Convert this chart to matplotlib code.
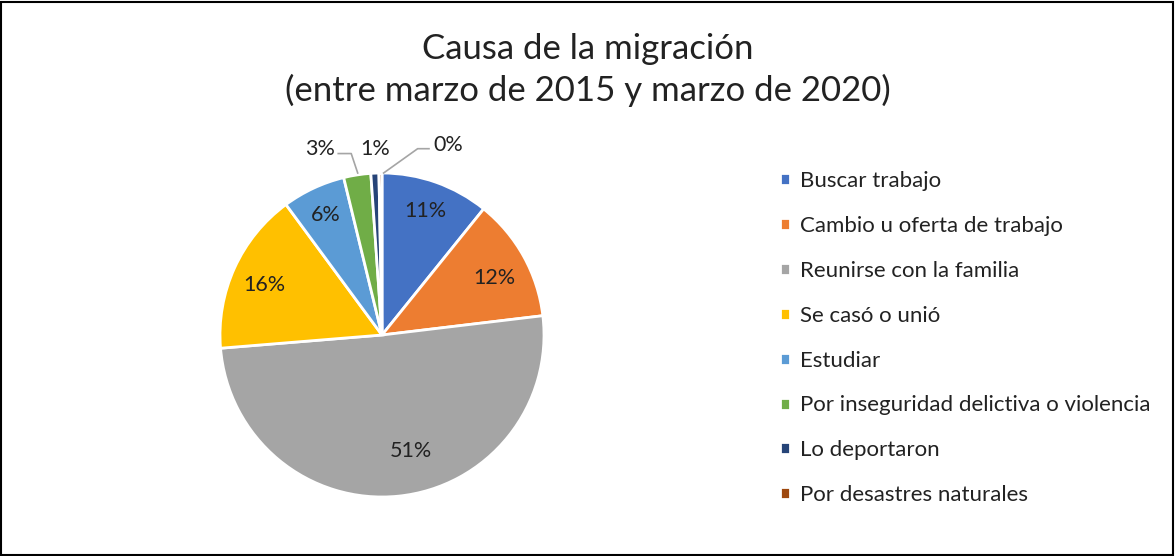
import numpy as np
import matplotlib.pyplot as plt
from matplotlib.patches import Rectangle

plt.rcParams['font.family'] = ['Lato', 'DejaVu Sans']

causas = ['Buscar trabajo', 'Cambio u oferta de trabajo', 'Reunirse con la familia',
          'Se casó o unió', 'Estudiar', 'Por inseguridad delictiva o violencia',
          'Lo deportaron', 'Por desastres naturales']
valores = [10.8, 12.3, 50.6, 16.2, 6.3, 2.7, 0.8, 0.3]
etiquetas = ['11%', '12%', '51%', '16%', '6%', '3%', '1%', '0%']
colores = ['#4472C4', '#ED7D31', '#A5A5A5', '#FFC000', '#5B9BD5', '#70AD47', '#264478', '#9E480E']

W, H = 1175, 556
fig = plt.figure(figsize=(W / 100, H / 100), dpi=100)

# pie axes placed in pixels: center (382, 335), radius 162
cx, cy, r = 382, 335, 162
ax = fig.add_axes([(cx - r) / W, (H - cy - r) / H, 2 * r / W, 2 * r / H])
wedges, _ = ax.pie(valores, colors=colores, startangle=90, counterclock=False,
                   wedgeprops=dict(edgecolor='white', linewidth=2))
ax.set_xlim(-1, 1)
ax.set_ylim(-1, 1)
ax.set_aspect('equal')
ax.axis('off')

# inside labels (radius factor, angle shift in degrees)
dist = [0.81, 0.78, 0.74, 0.79, 0.82]
shift = [0, -2, 8, 1.5, 0]
for w, lab, d, s in zip(wedges[:5], etiquetas[:5], dist, shift):
    ang = np.deg2rad((w.theta1 + w.theta2) / 2 + s)
    ax.text(d * np.cos(ang), d * np.sin(ang), lab, ha='center', va='center',
            fontsize=15.5, color='#222222')

# outside labels for the small slices
ax.text(-0.38, 1.15, etiquetas[5], ha='center', va='center', fontsize=15.5, color='#222222')
ax.text(-0.04, 1.15, etiquetas[6], ha='center', va='center', fontsize=15.5, color='#222222')
ax.text(0.41, 1.17, etiquetas[7], ha='center', va='center', fontsize=15.5, color='#222222')
ax.plot([-0.27, -0.19, -0.15], [1.12, 1.12, 1.0], color='#A5A5A5', lw=1.2, clip_on=False)
ax.plot([0.01, 0.22, 0.29], [1.0, 1.15, 1.15], color='#A5A5A5', lw=1.2, clip_on=False)

fig.text(588 / W, 1 - 70 / H, 'Causa de la migración\n(entre marzo de 2015 y marzo de 2020)',
         ha='center', va='center', fontsize=25, color='#222222', linespacing=1.35)

fig.legend(wedges, causas, loc='upper left', bbox_to_anchor=(780 / W, 1 - 171 / H),
           frameon=False, fontsize=16, handlelength=0.45, handleheight=0.45,
           handletextpad=0.45, labelspacing=1.12, labelcolor='#222222',
           borderpad=0, borderaxespad=0)

fig.patches.append(Rectangle((0.001, 0.002), 0.997, 0.995, transform=fig.transFigure,
                             fill=False, edgecolor='black', linewidth=1.5))

fig.savefig('out.png', dpi=100)
